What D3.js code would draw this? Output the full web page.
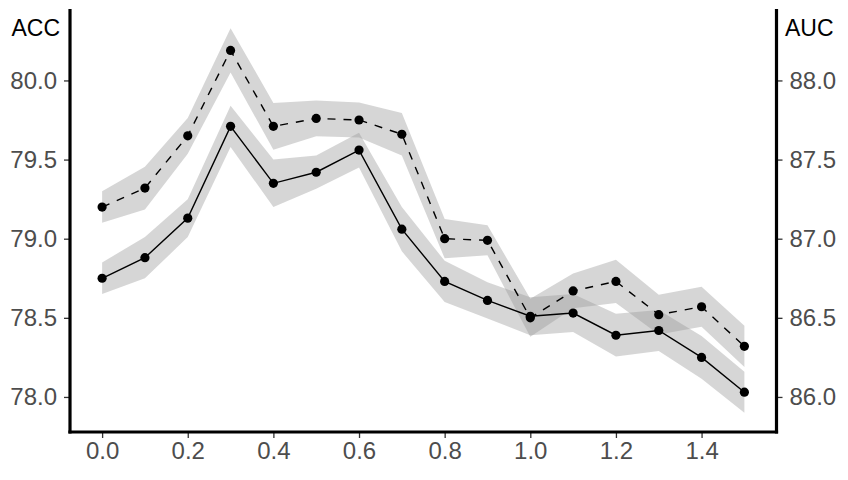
<!DOCTYPE html>
<html><head><meta charset="utf-8">
<script src="https://cdn.jsdelivr.net/npm/d3@7"></script>
<style>body{margin:0;background:#fff}svg{display:block}</style>
</head><body>
<script>
const xValues = [0.0,0.1,0.2,0.3,0.4,0.5,0.6,0.7,0.8,0.9,1.0,1.1,1.2,1.3,1.4,1.5];
const acc = [78.75,78.88,79.13,79.71,79.35,79.42,79.56,79.06,78.73,78.61,78.51,78.53,78.39,78.42,78.25,78.03];
const accSd = [0.10,0.13,0.12,0.13,0.15,0.105,0.11,0.14,0.13,0.115,0.12,0.12,0.135,0.13,0.135,0.13];
const auc = [87.20,87.32,87.65,88.19,87.71,87.76,87.75,87.66,87.00,86.99,86.50,86.67,86.73,86.52,86.57,86.32];
const aucSd = [0.10,0.135,0.113,0.14,0.148,0.113,0.11,0.134,0.124,0.095,0.12,0.11,0.137,0.126,0.126,0.13];
const xTicks = [0.0,0.2,0.4,0.6,0.8,1.0,1.2,1.4];
const accTicks = [78.0,78.5,79.0,79.5,80.0];
const aucTicks = [86.0,86.5,87.0,87.5,88.0];

const W=848,H=480;
const L=70,R=776.5,T=9,B=432;
const svg=d3.select("body").append("svg").attr("width",W).attr("height",H);
const x=d3.scaleLinear().domain([-0.075,1.575]).range([L,R]);
const yAcc=d3.scaleLinear().domain([77.7785,80.4515]).range([B,T]);
const yAuc=d3.scaleLinear().domain([85.7785,88.4515]).range([B,T]);

const accData=xValues.map((v,i)=>({x:v,y:acc[i],sd:accSd[i]}));
const aucData=xValues.map((v,i)=>({x:v,y:auc[i],sd:aucSd[i]}));

const area=(ys)=>d3.area().x(d=>x(d.x)).y0(d=>ys(d.y-d.sd)).y1(d=>ys(d.y+d.sd));
const line=(ys)=>d3.line().x(d=>x(d.x)).y(d=>ys(d.y));

svg.append("path").datum(accData).attr("d",area(yAcc)).attr("fill","#999").attr("fill-opacity",0.4);
svg.append("path").datum(aucData).attr("d",area(yAuc)).attr("fill","#999").attr("fill-opacity",0.4);

svg.append("path").datum(accData).attr("d",line(yAcc)).attr("fill","none").attr("stroke","#000").attr("stroke-width",1.4);
svg.append("path").datum(aucData).attr("d",line(yAuc)).attr("fill","none").attr("stroke","#000").attr("stroke-width",1.4).attr("stroke-dasharray","8,8");

svg.selectAll("circle.acc").data(accData).enter().append("circle").attr("class","acc")
  .attr("cx",d=>x(d.x)).attr("cy",d=>yAcc(d.y)).attr("r",4.6).attr("fill","#000");
svg.selectAll("circle.auc").data(aucData).enter().append("circle").attr("class","auc")
  .attr("cx",d=>x(d.x)).attr("cy",d=>yAuc(d.y)).attr("r",4.6).attr("fill","#000");

function styleAxis(g){
  g.select(".domain").remove();
  g.selectAll(".tick line").attr("stroke","#333").attr("stroke-width",1.3);
  g.selectAll(".tick text").attr("fill","#4D4D4D").attr("font-family","'Liberation Sans',Arial,sans-serif").attr("font-size",24);
}
const gx=svg.append("g").attr("transform",`translate(0,${B})`)
  .call(d3.axisBottom(x).tickValues(xTicks).tickFormat(d3.format(".1f")).tickSize(6).tickPadding(4));
styleAxis(gx);
const gl=svg.append("g").attr("transform",`translate(${L},0)`)
  .call(d3.axisLeft(yAcc).tickValues(accTicks).tickFormat(d3.format(".1f")).tickSize(6).tickPadding(7));
styleAxis(gl);
const gr=svg.append("g").attr("transform",`translate(${R},0)`)
  .call(d3.axisRight(yAuc).tickValues(aucTicks).tickFormat(d3.format(".1f")).tickSize(6).tickPadding(7));
styleAxis(gr);

svg.append("line").attr("x1",L).attr("x2",L).attr("y1",T).attr("y2",B+1.5).attr("stroke","#000").attr("stroke-width",3.2);
svg.append("line").attr("x1",R).attr("x2",R).attr("y1",T).attr("y2",B+1.5).attr("stroke","#000").attr("stroke-width",3.2);
svg.append("line").attr("x1",L-1.6).attr("x2",R+1.6).attr("y1",B).attr("y2",B).attr("stroke","#000").attr("stroke-width",3.2);

svg.append("text").attr("x",60).attr("y",36).attr("text-anchor","end")
  .attr("font-family","'Liberation Sans',Arial,sans-serif").attr("font-size",23).attr("fill","#000").text("ACC");
svg.append("text").attr("x",785).attr("y",36).attr("text-anchor","start")
  .attr("font-family","'Liberation Sans',Arial,sans-serif").attr("font-size",23).attr("fill","#000").text("AUC");
</script>
</body></html>
